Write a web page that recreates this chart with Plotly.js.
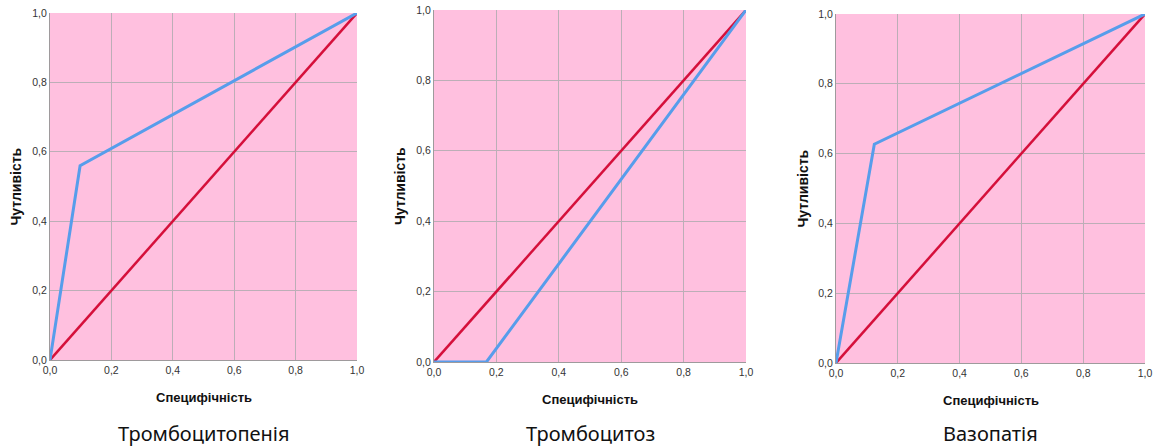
<!DOCTYPE html>
<html>
<head>
<meta charset="utf-8">
<script src="https://cdn.plot.ly/plotly-3.0.1.min.js"></script>
<style>
  html, body { margin: 0; padding: 0; background: #fff; }
  #chart { width: 1154px; height: 448px; }
</style>
</head>
<body>
<div id="chart"></div>
<script>
// ROC curves for three conditions (1 - specificity on x, sensitivity on y)
const panelTitles = ['Тромбоцитопенія', 'Тромбоцитоз', 'Вазопатія'];
const xTitle = 'Специфічність';
const yTitle = 'Чутливість';

const rocX1 = [0, 0.098, 1];
const rocY1 = [0, 0.56, 1];
const rocX2 = [0, 0.168, 1];
const rocY2 = [0, 0, 1];
const rocX3 = [0, 0.124, 1];
const rocY3 = [0, 0.627, 1];

const refX = [0, 1];
const refY = [0, 1];

const tickVals = [0, 0.2, 0.4, 0.6, 0.8, 1.0];

const W = 1154, H = 448;
// plot rectangles in pixels: [left, right, top, bottom]
const boxes = [
  [50, 357, 13, 360],
  [434, 746, 10, 362],
  [836, 1145, 14, 363]
];

const curves = [[rocX1, rocY1], [rocX2, rocY2], [rocX3, rocY3]];
const traces = [];
const layout = {
  width: W, height: H,
  margin: {l: 0, r: 0, t: 0, b: 0},
  paper_bgcolor: '#ffffff',
  showlegend: false,
  separators: ', ',
  annotations: [],
  shapes: []
};

const tickFont = {family: 'Liberation Sans, Arial, sans-serif', size: 10.5, color: '#333333'};
const xTitleFont = {family: 'Liberation Sans, Arial, sans-serif', size: 13, color: '#111111', weight: 'bold'};
const yTitleFont = {family: 'Liberation Sans, Arial, sans-serif', size: 14, color: '#111111', weight: 'bold'};

boxes.forEach((b, i) => {
  const n = i + 1;
  const xa = n === 1 ? 'x' : 'x' + n;
  const ya = n === 1 ? 'y' : 'y' + n;
  const [l, r, t, bt] = b;
  const axisCommon = {
    range: [0, 1],
    tickvals: tickVals,
    tickformat: '.1f',
    showgrid: true,
    gridcolor: '#bcaeb7',
    gridwidth: 1,
    zeroline: false,
    showline: true,
    linecolor: '#9e9a9c',
    linewidth: 1,
    ticks: '',
    tickfont: tickFont,
    fixedrange: true
  };
  layout['xaxis' + (n === 1 ? '' : n)] = Object.assign({}, axisCommon, {
    domain: [l / W, r / W],
    anchor: ya,
    ticklabelstandoff: 0
  });
  layout['yaxis' + (n === 1 ? '' : n)] = Object.assign({}, axisCommon, {
    domain: [1 - bt / H, 1 - t / H],
    anchor: xa,
    ticklabelstandoff: 0
  });
  // plot area fill
  layout.shapes.push({
    type: 'rect', xref: xa + ' domain', yref: ya + ' domain',
    x0: 0, x1: 1, y0: 0, y1: 1,
    fillcolor: '#ffc0df', line: {width: 0}, layer: 'below'
  });

  traces.push({
    x: refX, y: refY, xaxis: xa, yaxis: ya,
    mode: 'lines', line: {color: '#d5103b', width: 2.5},
    hoverinfo: 'skip'
  });
  traces.push({
    x: curves[i][0], y: curves[i][1], xaxis: xa, yaxis: ya,
    mode: 'lines', line: {color: '#579deb', width: 3},
    hoverinfo: 'skip'
  });

  const cx = (l + r) / 2;
  const cy = (t + bt) / 2;
  // x-axis title
  layout.annotations.push({
    text: xTitle, xref: 'paper', yref: 'paper',
    x: cx / W, y: 1 - (bt + 37) / H,
    xanchor: 'center', yanchor: 'middle', showarrow: false,
    font: xTitleFont
  });
  // y-axis title
  layout.annotations.push({
    text: yTitle, xref: 'paper', yref: 'paper',
    x: (l - 34) / W, y: 1 - cy / H, textangle: -90,
    xanchor: 'center', yanchor: 'middle', showarrow: false,
    font: yTitleFont
  });
  // panel caption
  layout.annotations.push({
    text: panelTitles[i], xref: 'paper', yref: 'paper',
    x: cx / W, y: 1 - 433 / H,
    xanchor: 'center', yanchor: 'middle', showarrow: false,
    font: {family: 'Noto Sans, Open Sans, sans-serif', size: 20, color: '#111111'}
  });
});

Plotly.newPlot('chart', traces, layout, {displayModeBar: false, staticPlot: true});
</script>
</body>
</html>
